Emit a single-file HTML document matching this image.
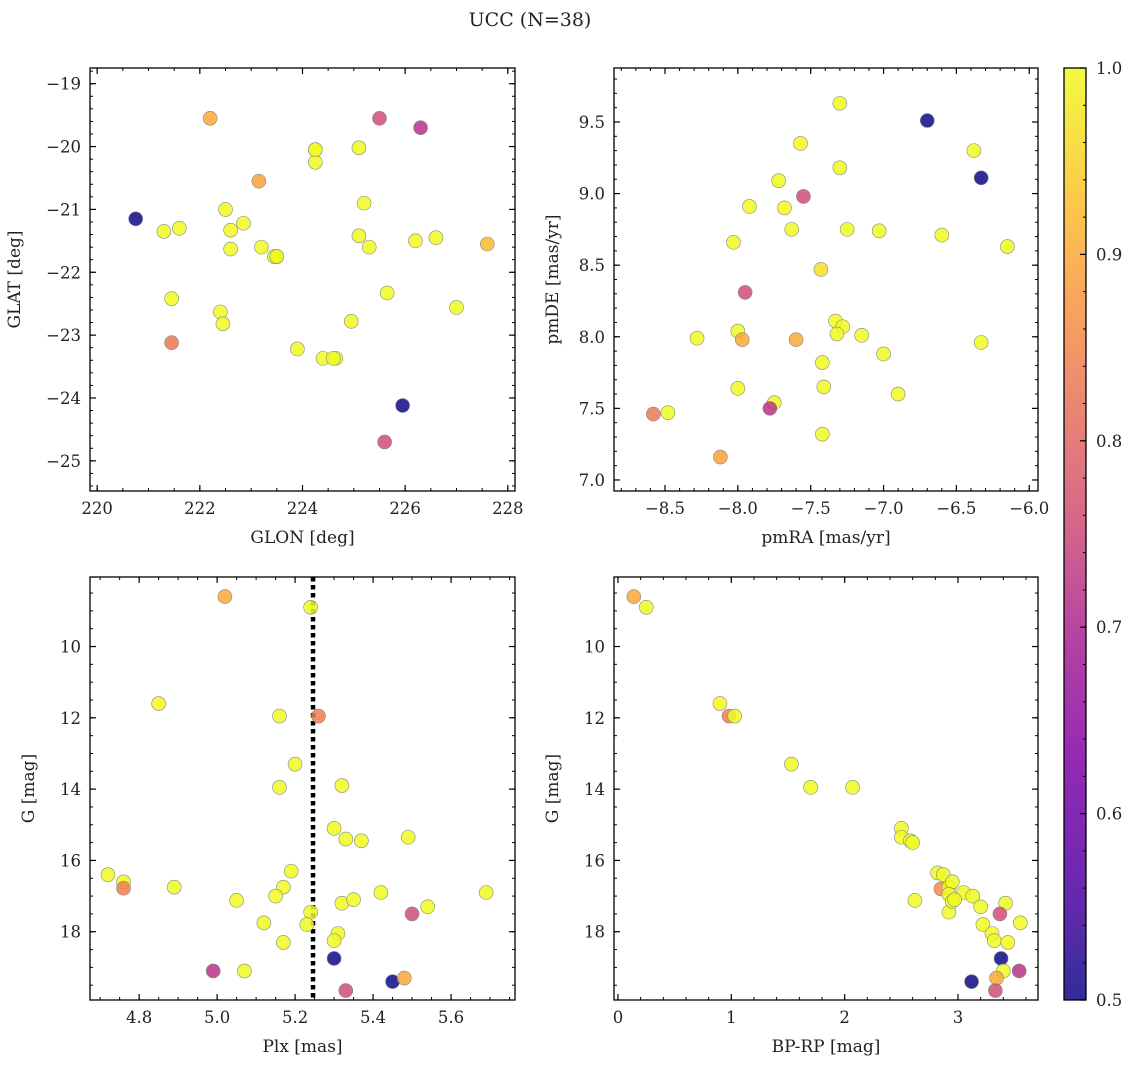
<!DOCTYPE html>
<html><head><meta charset="utf-8">
<style>
body{margin:0;background:#fff;}
svg text{font-family:"DejaVu Serif","Liberation Serif",serif;fill:#222;}
</style></head>
<body>
<svg id="fig" width="1136" height="1067" xmlns="http://www.w3.org/2000/svg">
<text x="530" y="26" font-size="19" text-anchor="middle">UCC (N=38)</text>
</svg>
<script>
// Panel 1 data: GLON vs GLAT
const p1x=[222.2,225.5,226.3,224.25,224.25,225.1,223.15,220.75,221.3,221.6,222.5,222.6,222.85,222.6,223.2,223.5,223.45,225.2,225.1,225.3,226.2,226.6,227.6,221.45,222.4,222.45,225.65,227.0,224.95,223.9,224.4,224.65,224.6,221.45,225.95,225.6,224.25,223.5];
const p1y=[-19.55,-19.55,-19.7,-20.05,-20.25,-20.02,-20.55,-21.15,-21.35,-21.3,-21.0,-21.33,-21.22,-21.63,-21.6,-21.75,-21.75,-20.9,-21.42,-21.6,-21.5,-21.45,-21.55,-22.42,-22.63,-22.82,-22.33,-22.56,-22.78,-23.22,-23.37,-23.37,-23.37,-23.12,-24.12,-24.7,-20.05,-21.75];
const p1c=[0.9,0.76,0.72,1,1,1,0.89,0.5,1,1,1,1,1,1,1,1,1,1,1,1,1,1,0.92,1,1,1,1,1,1,1,1,1,1,0.83,0.5,0.76,1,1];
// Panel 2 data: pmRA vs pmDE
const p2x=[-7.3,-6.7,-7.57,-6.38,-7.3,-6.33,-7.72,-7.92,-7.68,-7.55,-7.63,-7.25,-7.03,-6.6,-8.03,-6.15,-7.43,-7.95,-7.33,-7.28,-7.15,-7.32,-8.0,-8.28,-7.97,-7.6,-6.33,-7.0,-7.42,-8.0,-7.41,-6.9,-7.75,-7.78,-8.58,-8.48,-7.42,-8.12];
const p2y=[9.63,9.51,9.35,9.3,9.18,9.11,9.09,8.91,8.9,8.98,8.75,8.75,8.74,8.71,8.66,8.63,8.47,8.31,8.11,8.07,8.01,8.02,8.04,7.99,7.98,7.98,7.96,7.88,7.82,7.64,7.65,7.6,7.54,7.5,7.46,7.47,7.32,7.16];
const p2c=[1,0.5,1,1,1,0.5,1,1,1,0.76,1,1,1,1,1,1,0.97,0.76,1,1,1,1,1,1,0.9,0.9,1,1,1,1,1,1,1,0.72,0.83,1,1,0.89];
// Panel 3 data: Plx vs G
const p3x=[5.02,5.24,4.85,5.16,5.26,5.2,5.16,5.32,5.30,5.33,5.37,5.49,4.72,4.76,4.76,4.89,5.19,5.17,5.15,5.05,5.12,5.24,5.23,5.32,5.35,5.42,5.54,5.69,5.50,5.31,5.30,5.17,4.99,5.07,5.30,5.45,5.48,5.33];
const p3y=[8.6,8.9,11.6,11.95,11.95,13.3,13.95,13.9,15.1,15.4,15.45,15.35,16.4,16.6,16.78,16.75,16.3,16.75,17.0,17.12,17.75,17.45,17.8,17.2,17.1,16.9,17.3,16.9,17.5,18.05,18.25,18.3,19.1,19.1,18.75,19.4,19.3,19.65];
const p3c=[0.9,1,1,1,0.84,1,1,1,1,1,1,1,1,1,0.84,1,1,1,1,1,1,1,1,1,1,1,1,1,0.76,1,1,1,0.72,1,0.5,0.5,0.9,0.76];
// Panel 4 data: BP-RP vs G
const p4x=[0.14,0.25,0.9,0.98,1.03,1.53,1.7,2.07,2.5,2.5,2.58,2.6,2.82,2.85,2.87,2.92,2.95,2.92,2.62,2.92,3.05,3.13,3.2,2.95,3.22,3.3,3.32,3.42,3.55,3.37,3.44,3.38,3.4,3.54,3.12,3.34,3.33,2.97];
const p4y=[8.6,8.9,11.6,11.95,11.95,13.3,13.95,13.95,15.1,15.35,15.45,15.5,16.35,16.8,16.4,16.75,16.6,16.95,17.12,17.45,16.9,17.0,17.3,17.15,17.8,18.05,18.25,17.2,17.75,17.5,18.3,18.75,19.1,19.1,19.4,19.3,19.65,17.1];
const p4c=[0.9,1,1,0.84,1,1,1,1,1,1,1,1,1,0.86,1,1,1,1,1,1,1,1,1,1,1,1,1,1,1,0.76,1,0.5,1,0.72,0.5,0.9,0.76,1];
const cbTicks=[0.5,0.6,0.7,0.8,0.9,1.0];

const NS="http://www.w3.org/2000/svg";
const svg=document.getElementById('fig');
function mk(tag,attrs,parent){const e=document.createElementNS(NS,tag);for(const k in attrs)e.setAttribute(k,attrs[k]);(parent||svg).appendChild(e);return e;}
const stops=[[13,8,135],[84,2,163],[126,3,168],[163,29,151],[204,71,120],[230,108,92],[248,149,64],[253,196,39],[240,249,33]];
function plasma(v){let t=(v-0.5)/0.5;t=Math.max(0,Math.min(1,t));const f=t*(stops.length-1);const i=Math.min(stops.length-2,Math.floor(f));const r=f-i;const a=stops[i],b=stops[i+1];return `rgb(${Math.round(a[0]+(b[0]-a[0])*r)},${Math.round(a[1]+(b[1]-a[1])*r)},${Math.round(a[2]+(b[2]-a[2])*r)})`;}
function fmt(v,d){let s=v.toFixed(d);return s.replace('-','\u2212');}

function panel(o){
  const g=mk('g',{});
  
  
  const X=v=>o.L+(v-o.x0)/(o.x1-o.x0)*(o.R-o.L);
  const Y=o.inv?(v=>o.T+(v-o.y0)/(o.y1-o.y0)*(o.B-o.T)):(v=>o.B-(v-o.y0)/(o.y1-o.y0)*(o.B-o.T));
  const eps=1e-9;
  function ticks(a,b,step){const r=[];let s=Math.ceil((Math.min(a,b)-eps)/step)*step;for(let v=s;v<=Math.max(a,b)+eps;v+=step)r.push(+v.toFixed(6));return r;}
  ticks(o.x0,o.x1,o.xmin).forEach(v=>{const x=X(v);mk('line',{x1:x,x2:x,y1:o.B,y2:o.B-3,stroke:'#000','stroke-width':1},g);mk('line',{x1:x,x2:x,y1:o.T,y2:o.T+3,stroke:'#000','stroke-width':1},g);});
  ticks(o.y0,o.y1,o.ymin).forEach(v=>{const y=Y(v);mk('line',{x1:o.L,x2:o.L+3,y1:y,y2:y,stroke:'#000','stroke-width':1},g);mk('line',{x1:o.R,x2:o.R-3,y1:y,y2:y,stroke:'#000','stroke-width':1},g);});
  ticks(o.x0,o.x1,o.xmaj).forEach(v=>{const x=X(v);mk('line',{x1:x,x2:x,y1:o.B,y2:o.B-6,stroke:'#000','stroke-width':1.2},g);mk('line',{x1:x,x2:x,y1:o.T,y2:o.T+6,stroke:'#000','stroke-width':1.2},g);
    const t=mk('text',{x:x,y:o.B+23,'font-size':16.5,'text-anchor':'middle'},g);t.textContent=fmt(v,o.xd);
    
    });
  ticks(o.y0,o.y1,o.ymaj).forEach(v=>{const y=Y(v);mk('line',{x1:o.L,x2:o.L+6,y1:y,y2:y,stroke:'#000','stroke-width':1.2},g);mk('line',{x1:o.R,x2:o.R-6,y1:y,y2:y,stroke:'#000','stroke-width':1.2},g);
    const t=mk('text',{x:o.L-9,y:y+6,'font-size':16.5,'text-anchor':'end'},g);t.textContent=fmt(v,o.yd);
    
    });
  if(o.vline!==undefined){const l=mk('line',{x1:X(o.vline),x2:X(o.vline),y1:o.T,y2:o.B,stroke:'#000','stroke-width':4.5,'stroke-dasharray':'4.5,3.5'},g);
    
    }
  o.xs.forEach((v,i)=>{const c=mk('circle',{cx:X(v),cy:Y(o.ys[i]),r:7,fill:plasma(o.cs[i]),'fill-opacity':0.85,stroke:'#888','stroke-width':0.6},g);
    
    });
  mk('rect',{x:o.L,y:o.T,width:o.R-o.L,height:o.B-o.T,fill:'none',stroke:'#000','stroke-width':1.3},g);
  const xl=mk('text',{x:(o.L+o.R)/2,y:o.B+52,'font-size':17,'text-anchor':'middle'},g);xl.textContent=o.xlab;
  
  
  const yx=o.L-o.ylabOff, yy=(o.T+o.B)/2;
  const yl=mk('text',{x:yx,y:yy,'font-size':17,'text-anchor':'middle',transform:`rotate(-90 ${yx} ${yy})`},g);yl.textContent=o.ylab;
  
  
}
panel({name:'glon-glat-panel',L:90,R:515,T:68,B:491,x0:219.86,x1:228.14,y0:-25.48,y1:-18.75,xmaj:2,xmin:0.5,ymaj:1,ymin:0.2,xd:0,yd:0,xs:p1x,ys:p1y,cs:p1c,xlab:'GLON [deg]',ylab:'GLAT [deg]',ylabOff:70});
panel({name:'pm-panel',L:614,R:1038,T:68,B:491,x0:-8.85,x1:-5.94,y0:6.923,y1:9.877,xmaj:0.5,xmin:0.1,ymaj:0.5,ymin:0.1,xd:1,yd:1,xs:p2x,ys:p2y,cs:p2c,xlab:'pmRA [mas/yr]',ylab:'pmDE [mas/yr]',ylabOff:56});
panel({name:'plx-g-panel',L:90,R:515,T:577,B:1000,x0:4.674,x1:5.764,y0:8.05,y1:19.915,inv:true,xmaj:0.2,xmin:0.05,ymaj:2,ymin:0.5,xd:1,yd:0,xs:p3x,ys:p3y,cs:p3c,xlab:'Plx [mas]',ylab:'G [mag]',ylabOff:56,vline:5.246});
panel({name:'cmd-panel',L:614,R:1038,T:577,B:1000,x0:-0.035,x1:3.706,y0:8.05,y1:19.915,inv:true,xmaj:1,xmin:0.2,ymaj:2,ymin:0.5,xd:0,yd:0,xs:p4x,ys:p4y,cs:p4c,xlab:'BP-RP [mag]',ylab:'G [mag]',ylabOff:56});

const cb=mk('g',{});


const cT=68,cB=1000,cL=1064,cR=1086;
const defs=mk('defs',{},cb);
const lg=mk('linearGradient',{id:'pg',x1:0,y1:1,x2:0,y2:0},defs);
for(let i=0;i<=20;i++){mk('stop',{offset:i/20,'stop-color':plasma(0.5+0.5*i/20),'stop-opacity':0.85},lg);}
mk('rect',{x:cL,y:cT,width:cR-cL,height:cB-cT,fill:'url(#pg)'},cb);
const CY=v=>cB-(v-0.5)/0.5*(cB-cT);
for(let v=0.5;v<=1.0001;v+=0.02){const y=CY(v);mk('line',{x1:cR,x2:cR-3,y1:y,y2:y,stroke:'#000'},cb);}
cbTicks.forEach(v=>{const y=CY(v);mk('line',{x1:cR,x2:cR-6,y1:y,y2:y,stroke:'#000','stroke-width':1.2},cb);
  const t=mk('text',{x:cR+10,y:y+6,'font-size':16.5},cb);t.textContent=v.toFixed(1);
  
  });
mk('rect',{x:cL,y:cT,width:cR-cL,height:cB-cT,fill:'none',stroke:'#000','stroke-width':1.3},cb);
</script>
</body></html>
